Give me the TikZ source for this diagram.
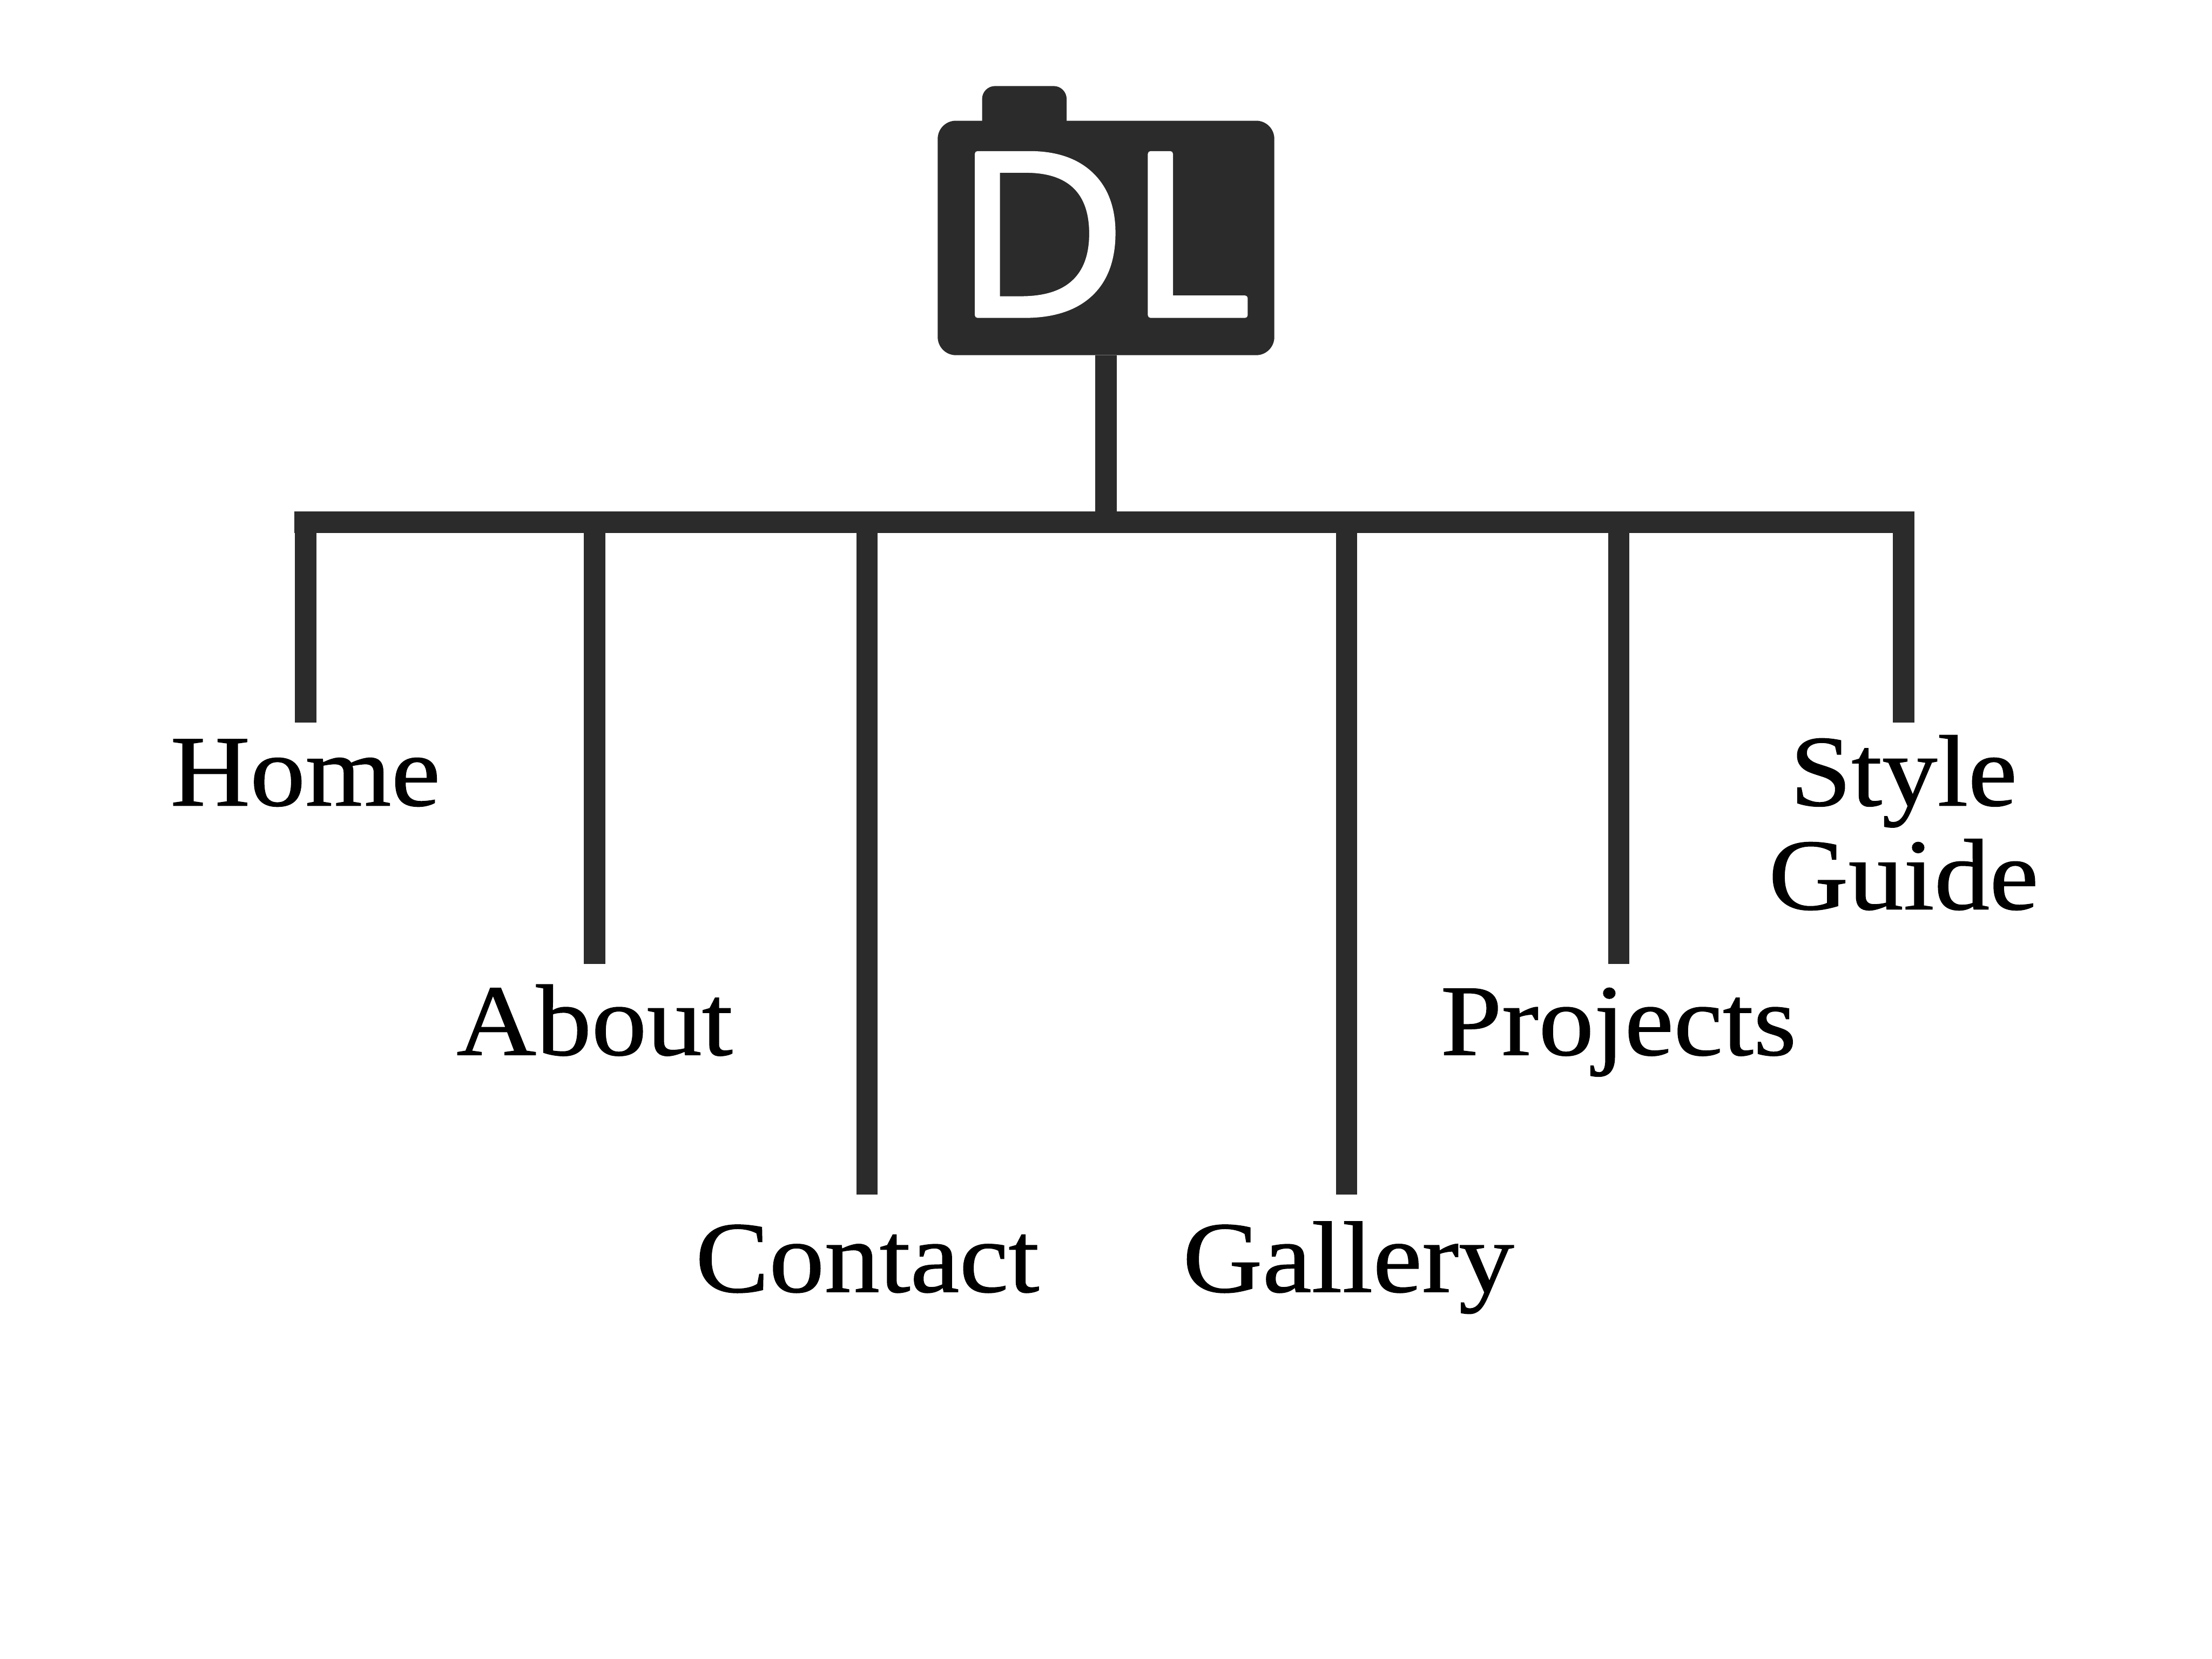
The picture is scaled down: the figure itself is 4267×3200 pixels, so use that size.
\documentclass[tikz,border=0pt]{standalone}
\usepackage{fontspec}
\setmainfont[FakeStretch=1.09,FakeBold=0.8]{Liberation Serif}
\newfontfamily\logofont[FakeStretch=1.05,FakeBold=2.4]{Open Sans}
\definecolor{ink}{HTML}{2B2B2B}
\tikzset{
  conn/.style={draw=ink,line width=0.41cm,line cap=butt},
  navlabel/.style={anchor=base,inner sep=0pt,text=black,align=center,font=\fontsize{55.6}{56.9}\selectfont},
  logobox/.style={fill=ink,inner sep=0pt,rounded corners=0.35cm},
  logotext/.style={anchor=base west,inner sep=0pt,text=white,font=\logofont\fontsize{124}{124}\selectfont}
}
\begin{document}
\begin{tikzpicture}[x=0.01cm,y=-0.01cm]
\useasboundingbox[fill=white] (0,0) rectangle (4267,3200);
\node[logobox,minimum width=1.63cm,minimum height=1.0cm,rounded corners=0.25cm] (tab) at (1976,216) {};
\node[logobox,minimum width=6.49cm,minimum height=4.52cm] (logo) at (2133.5,459) {};
\node[logotext] (dl) at (1840,608) {\special{pdf:code 1 j}DL};
\coordinate (hub) at (2133.5,1007.5);
\coordinate (barL) at (568,1007.5);
\coordinate (barR) at (3692,1007.5);
\foreach \n/\x/\y in {a/589.5/1394,b/1147/1859,c/1672.5/2304,d/2597.5/2304,e/3122.5/1859,f/3672/1394}{
  \coordinate (top\n) at (\x,987);
  \coordinate (end\n) at (\x,\y);
}
\node[navlabel] (home) at (589,1554) {Home};
\node[navlabel] (about) at (1147,2035) {About};
\node[navlabel] (contact) at (1673,2492) {Contact};
\node[navlabel] (gallery) at (2601,2492) {Gallery};
\node[navlabel] (projects) at (3122,2035) {Projects};
\node[navlabel] (style) at (3672,1754) {Style\\Guide};
\draw[conn] (logo.south) -- (hub);
\draw[conn] (barL) -- (barR);
\foreach \n in {a,b,c,d,e,f}{\draw[conn] (top\n) -- (end\n);}
\end{tikzpicture}
\end{document}
